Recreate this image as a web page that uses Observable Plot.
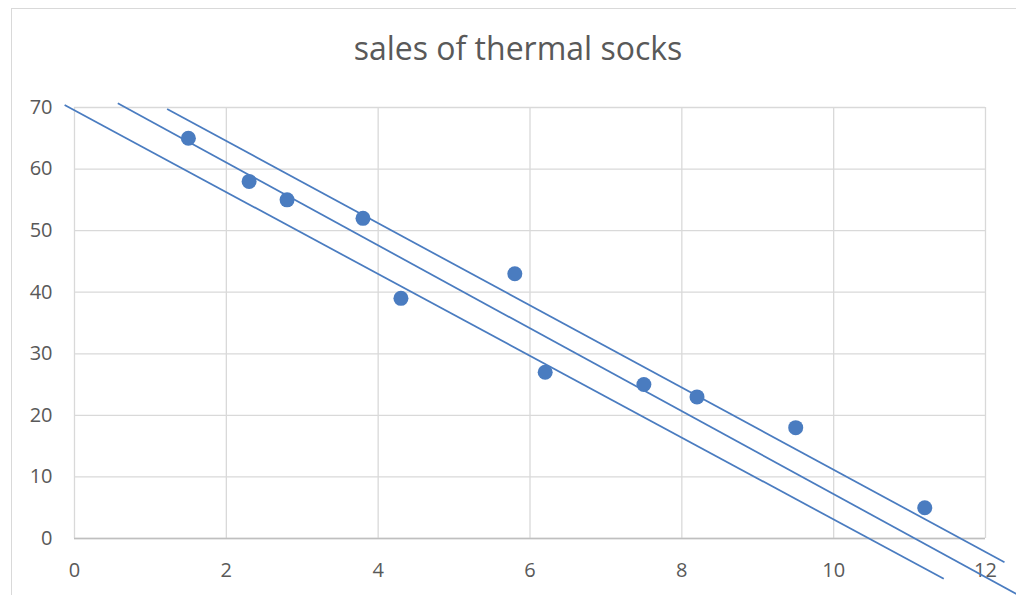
<!DOCTYPE html>
<html>
<head>
<meta charset="utf-8">
<script src="https://cdn.jsdelivr.net/npm/d3@7"></script>
<script src="https://cdn.jsdelivr.net/npm/@observablehq/plot@0.6"></script>
<style>
  html, body { margin: 0; padding: 0; background: #fff; overflow: hidden; }
  #chart { position: relative; width: 1016px; height: 595px; overflow: hidden; background: #fff; }
  #frame { position: absolute; left: 11px; top: 8px; width: 1100px; height: 700px;
           border-left: 1.5px solid #d9d9d9; border-top: 1.5px solid #d9d9d9; pointer-events: none; }
  #title { position: relative; height: 90px; box-sizing: border-box; padding-top: 28px; padding-left: 20px;
           text-align: center; font-family: "Open Sans", sans-serif; font-size: 32px; line-height: 40px;
           color: #595959; }
  #plot svg { display: block; }
</style>
</head>
<body>
<div id="chart">
  <div id="frame"></div>
  <div id="title">sales of thermal socks</div>
  <div id="plot"></div>
</div>
<script>
// scatter data
const monthsX = [1.5, 2.3, 2.8, 3.8, 4.3, 5.8, 6.2, 7.5, 8.2, 9.5, 11.2];
const salesY  = [65, 58, 55, 52, 39, 43, 27, 25, 23, 18, 5];

// three hand-drawn straight lines (start / end points in data units)
const lineX1 = [-0.13, 0.57, 1.22];
const lineY1 = [70.4, 70.7, 69.76];
const lineX2 = [11.45, 12.6, 12.25];
const lineY2 = [-6.54, -10.3, -3.85];

// tick labels
const xTicks = [0, 2, 4, 6, 8, 10, 12];
const yTicks = [0, 10, 20, 30, 40, 50, 60, 70];

const points = monthsX.map((x, i) => ({x, y: salesY[i]}));
const lines = lineX1.map((x1, i) => ({x1, y1: lineY1[i], x2: lineX2[i], y2: lineY2[i]}));

const blue = "#4a7cc0";
const labelFont = {fontSize: 20, fill: "#595959"};

const chart = Plot.plot({
  width: 1016,
  height: 505,
  marginLeft: 74,
  marginRight: 31,
  marginTop: 17,
  marginBottom: 57,
  style: {fontFamily: "'Open Sans', sans-serif", background: "transparent", overflow: "visible"},
  x: {domain: [0, 12]},
  y: {domain: [0, 70]},
  marks: [
    Plot.gridX(xTicks, {stroke: "#d9d9d9", strokeOpacity: 1, strokeWidth: 1.3}),
    Plot.gridY(yTicks, {stroke: "#d9d9d9", strokeOpacity: 1, strokeWidth: 1.3}),
    Plot.ruleY([0], {stroke: "#bfbfbf", strokeWidth: 1.5}),
    Plot.axisX(xTicks, {tickSize: 0, tickPadding: 24, ...labelFont}),
    Plot.axisY(yTicks, {tickSize: 0, tickPadding: 22, ...labelFont}),
    Plot.link(lines, {x1: "x1", y1: "y1", x2: "x2", y2: "y2", stroke: blue, strokeWidth: 1.75}),
    Plot.dot(points, {x: "x", y: "y", r: 7.5, fill: blue, stroke: "none"})
  ]
});
document.getElementById("plot").appendChild(chart);
</script>
</body>
</html>
